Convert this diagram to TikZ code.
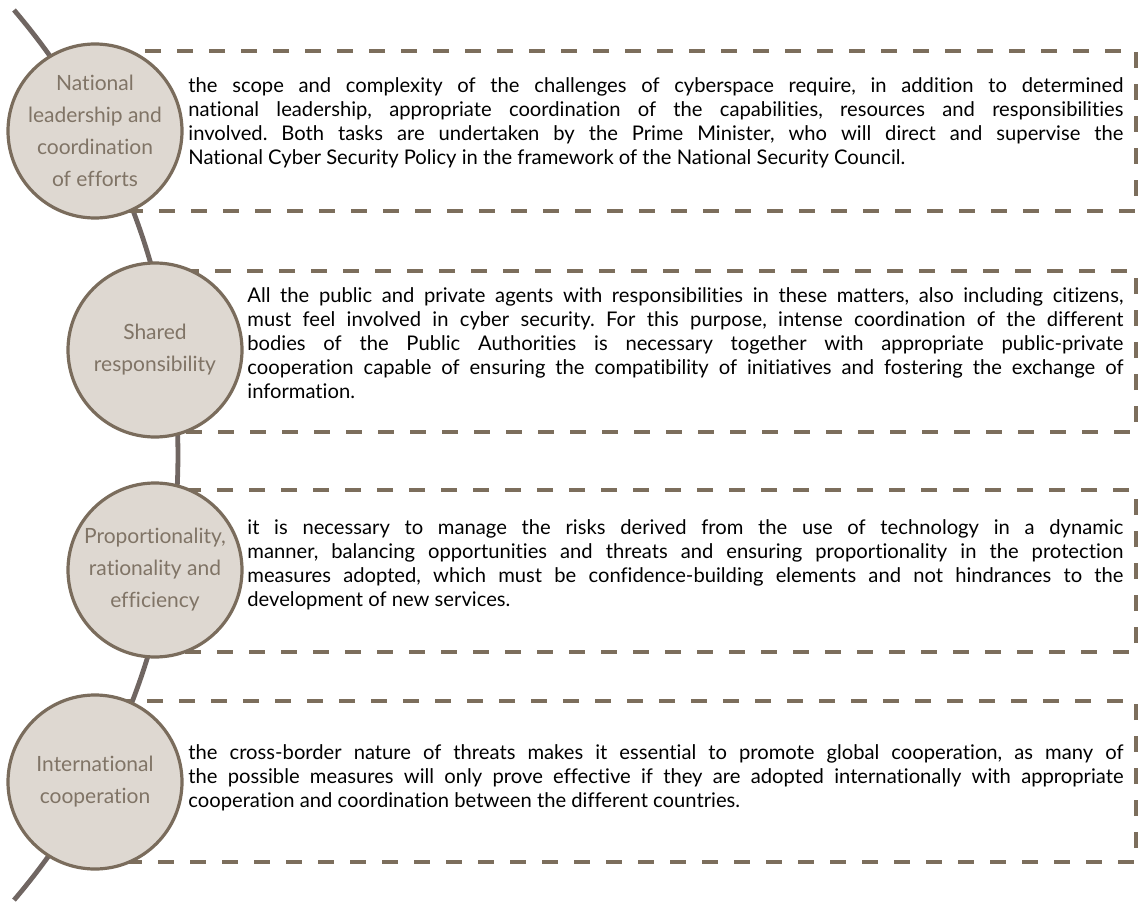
\documentclass[tikz,border=0pt]{standalone}
\usepackage{fontspec}
\setmainfont{Lato}[Ligatures=NoCommon]
\usetikzlibrary{backgrounds}
\definecolor{spinegray}{RGB}{112,102,98}
\definecolor{ringbrown}{RGB}{122,108,92}
\definecolor{ringfill}{RGB}{222,216,209}
\definecolor{ringtext}{RGB}{128,116,102}
\definecolor{dashbrown}{RGB}{124,110,92}
\frenchspacing

\begin{document}
\begin{tikzpicture}[x=0.5pt,y=0.5pt,
    ringstyle/.style={circle,draw=ringbrown,fill=ringfill,line width=1.6pt,
    minimum size=87pt,inner sep=0pt,align=center,text=ringtext,
    font=\fontsize{10.5}{16}\selectfont},
    dashbox/.style={draw=dashbrown,line width=1.6pt,dash pattern=on 8pt off 8pt},
    notestyle/.style={anchor=west,inner sep=0pt,align=justify,
    font=\fontsize{10.1}{12}\selectfont}]
    \useasboundingbox (0,0) rectangle (1140,-909);
    % spine behind the circles
    \draw[spinegray,line width=2.4pt] (14,-10) arc[start angle=40.45,end angle=-40.45,radius=343pt];
    % dashed frames
    \foreach \xa/\ya/\yb in {95/51/211,155/271/432,155/490/652,95/701/862}
        \draw[dashbox] (\xa,-\ya) rectangle (1136,-\yb);
    % circles
    \node[ringstyle] (c1) at (95,-131) {National\\leadership and\\coordination\\of efforts};
    \node[ringstyle] (c2) at (155,-350) {Shared\\responsibility};
    \node[ringstyle] (c3) at (155,-570) {Proportionality,\\rationality and\\efficiency};
    \node[ringstyle] (c4) at (95,-782) {International\\cooperation};
    % texts
    \node[notestyle,text width=467.5pt] (n1) at (188,-123) {the scope and complexity of the challenges of cyberspace require, in addition to determined\linebreak
    national leadership, appropriate coordination of the capabilities, resources and responsibilities\linebreak
    involved. Both tasks are undertaken by the Prime Minister, who will direct and supervise the\linebreak
    National Cyber Security Policy in the framework of the National Security Council.};
    \node[notestyle,text width=438pt] (n2) at (247,-343) {All the public and private agents with responsibilities in these matters, also including citizens,\linebreak
    must feel involved in cyber security. For this purpose, intense coordination of the different\linebreak
    bodies of the Public Authorities is necessary together with appropriate public-private\linebreak
    cooperation capable of ensuring the compatibility of initiatives and fostering the exchange of\linebreak
    information.};
    \node[notestyle,text width=438pt] (n3) at (247,-565) {it is necessary to manage the risks derived from the use of technology in a dynamic\linebreak
    manner, balancing opportunities and threats and ensuring proportionality in the protection\linebreak
    measures adopted, which must be confidence-building elements and not hindrances to the\linebreak
    development of new services.};
    \node[notestyle,text width=467.5pt] (n4) at (188,-778) {the cross-border nature of threats makes it essential to promote global cooperation, as many of\linebreak
    the possible measures will only prove effective if they are adopted internationally with appropriate\linebreak
    cooperation and coordination between the different countries.};
\end{tikzpicture}
\end{document}
